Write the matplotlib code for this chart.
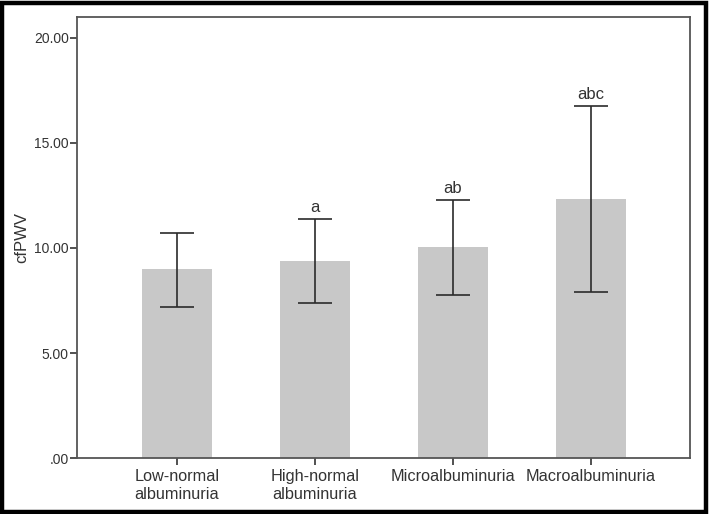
import numpy as np
import matplotlib.pyplot as plt
from matplotlib.ticker import FuncFormatter
from matplotlib.patches import Rectangle

plt.rcParams['font.family'] = ['Liberation Sans', 'DejaVu Sans']

# Data
groups = ["Low-normal\nalbuminuria", "High-normal\nalbuminuria",
          "Microalbuminuria", "Macroalbuminuria"]
means = [8.99, 9.38, 10.05, 12.35]
err_low = [1.78, 2.01, 2.27, 4.45]
err_high = [1.74, 2.00, 2.24, 4.41]
letters = ["", "a", "ab", "abc"]

fig = plt.figure(figsize=(7.09, 5.14), dpi=100)
ax = fig.add_axes([0.1086, 0.1089, 0.8646, 0.8581])

x = np.arange(len(groups))
ax.bar(x, means, width=0.507, color="#c8c8c8", zorder=1)
ax.errorbar(x, means, yerr=[err_low, err_high], fmt="none", ecolor="#2b2b2b",
            elinewidth=1.2, capsize=12.5, capthick=1.2, zorder=2)

for xi, m, h, lab in zip(x, means, err_high, letters):
    if lab:
        ax.annotate(lab, (xi, m + h), xytext=(0, 3), textcoords="offset points",
                    ha="center", va="bottom", fontsize=12, color="#333333")

ax.set_xlim(-0.725, 3.717)
ax.set_ylim(0, 21.0)
ax.set_yticks([0, 5, 10, 15, 20])
ax.yaxis.set_major_formatter(FuncFormatter(lambda v, p: ".00" if v == 0 else f"{v:.2f}"))
ax.set_xticks(x)
ax.set_xticklabels(groups, fontsize=11.7, color="#333333", linespacing=1.2)
ax.tick_params(axis="y", labelsize=10, colors="#333333", length=5, width=1.2, direction="out", pad=1)
ax.tick_params(axis="x", length=5, width=1.2, direction="out", pad=3, colors="#333333")
ax.set_ylabel("cfPWV", fontsize=12, color="#333333")
ax.yaxis.set_label_coords(-0.078, 0.5)

for s in ax.spines.values():
    s.set_color("#555555")
    s.set_linewidth(1.3)

# outer frame around the figure
fig.patches.append(Rectangle((0.0025, 0.003), 0.9935, 0.992, transform=fig.transFigure,
                             fill=False, edgecolor="black", linewidth=3.2))

fig.savefig("out.png", dpi=100)
